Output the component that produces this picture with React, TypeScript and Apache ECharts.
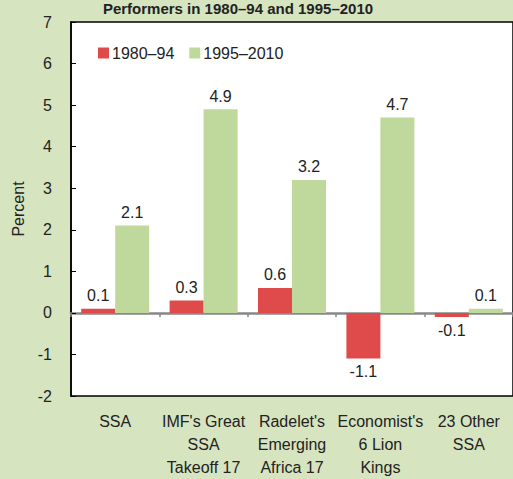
import React, { useEffect, useRef } from "react";
import * as echarts from "echarts";

const categories = [
  "SSA",
  "IMF's Great\nSSA\nTakeoff 17",
  "Radelet's\nEmerging\nAfrica 17",
  "Economist's\n6 Lion\nKings",
  "23 Other\nSSA",
];
const series1980 = [0.1, 0.3, 0.6, -1.1, -0.1];
const series1995 = [2.1, 4.9, 3.2, 4.7, 0.1];
const seriesNames = ["1980–94", "1995–2010"];
const titleText = "Performers in 1980–94 and 1995–2010";

const FONT = "'Liberation Sans Narrow', 'Arial Narrow', 'Liberation Sans', sans-serif";

export default function App() {
  const ref = useRef<HTMLDivElement>(null);
  useEffect(() => {
    if (!ref.current) return;
    const chart = echarts.init(ref.current, null, { renderer: "svg" });
    const labelStyle = {
      show: true,
      fontFamily: FONT,
      fontSize: 16,
      color: "#222",
      formatter: (p: any) => Number(p.value).toFixed(1),
    };
    chart.setOption({
      animation: false,
      backgroundColor: "#d6e4bf",
      textStyle: { fontFamily: FONT },
      graphic: [
        {
          type: "text",
          x: 238,
          y: 1,
          style: {
            text: titleText,
            font: `bold 15px ${FONT}`,
            fill: "#222",
            align: "center",
            verticalAlign: "top",
          },
        },
      ],
      legend: {
        left: 93,
        top: 40,
        itemWidth: 11,
        itemHeight: 11,
        itemGap: 15,
        icon: "rect",
        textStyle: { fontFamily: FONT, fontSize: 16, color: "#222", padding: [0, 0, 0, -2] },
        data: seriesNames,
      },
      grid: {
        left: 71,
        top: 22,
        height: 374,
        width: 458,
        show: true,
        backgroundColor: "#ffffff",
        borderColor: "#000",
        borderWidth: 1.5,
      },
      xAxis: [
        {
          type: "category",
          data: categories,
          position: "bottom",
          axisLine: { show: false, onZero: false },
          axisTick: { show: false },
          axisLabel: {
            fontFamily: FONT,
            fontSize: 16,
            color: "#222",
            lineHeight: 23,
            margin: 14,
            interval: 0,
          },
        },
        {
          type: "category",
          data: categories,
          position: "bottom",
          axisLine: { show: true, onZero: true, lineStyle: { color: "#888", width: 2.5 } },
          axisTick: { show: true, length: 4, lineStyle: { color: "#888", width: 1.5 } },
          axisLabel: { show: false },
        },
      ],
      yAxis: {
        type: "value",
        min: -2,
        max: 7,
        interval: 1,
        name: "Percent",
        nameLocation: "middle",
        nameGap: 40,
        nameTextStyle: { fontFamily: FONT, fontSize: 16, color: "#222" },
        splitLine: { show: false },
        axisLine: { show: true, lineStyle: { color: "#000", width: 1.5 } },
        axisTick: { show: true, inside: true, length: 5, lineStyle: { color: "#000" } },
        axisLabel: { fontFamily: FONT, fontSize: 16, color: "#222", margin: 19 },
      },
      series: [
        {
          name: seriesNames[0],
          type: "bar",
          data: series1980.map((v) => ({
            value: v,
            label: { position: v < 0 ? "bottom" : "top" },
          })),
          barWidth: 34,
          barGap: "0%",
          itemStyle: { color: "#df4b4b" },
          label: labelStyle,
        },
        {
          name: seriesNames[1],
          type: "bar",
          data: series1995.map((v) => ({
            value: v,
            label: { position: v < 0 ? "bottom" : "top" },
          })),
          barWidth: 34,
          barGap: "0%",
          itemStyle: { color: "#bfd89b" },
          label: labelStyle,
        },
      ],
    });
    return () => chart.dispose();
  }, []);
  return <div ref={ref} style={{ width: 513, height: 479, position: "absolute", left: 0, top: 0 }} />;
}
